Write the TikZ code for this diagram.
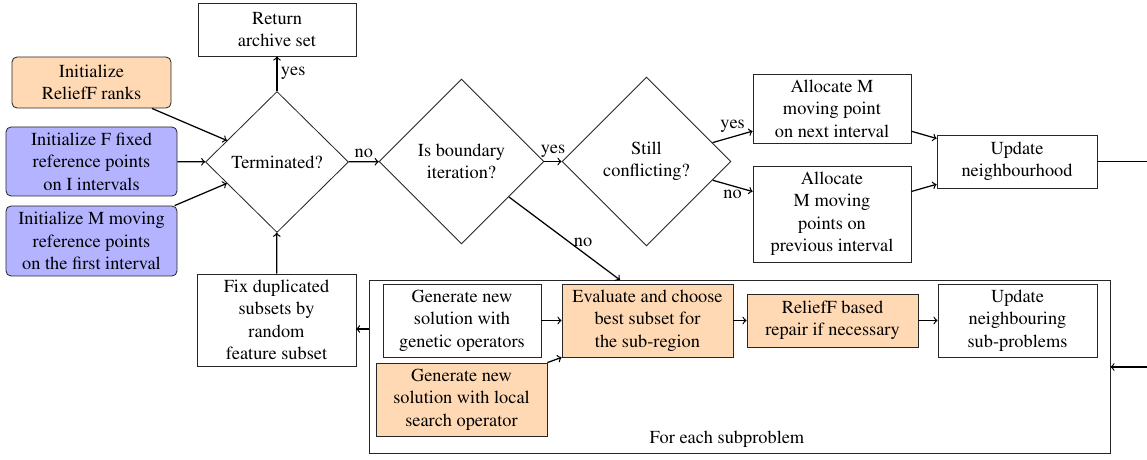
\documentclass[tikz,border=0pt]{standalone}
\usepackage[T1]{fontenc}
\usepackage{times}
\usetikzlibrary{shapes.geometric,calc}
\definecolor{peach}{RGB}{255,217,179}
\definecolor{lav}{RGB}{179,179,255}
\begin{document}
\begin{tikzpicture}[x=0.6pt,y=-0.6pt,
  every node/.style={font=\fontencoding{T1}\fontfamily{ptm}\fontsize{11}{13.5}\selectfont},
  box/.style={draw=black!85, line width=0.5pt, align=center, inner sep=1pt},
  rbox/.style={box, rounded corners=3pt},
  dia/.style={draw=black!85, line width=0.5pt, diamond, aspect=1, align=center, inner sep=0pt},
  conn/.style={->, line width=0.75pt},
  lbl/.style={inner sep=2pt}]
\useasboundingbox (0,0) rectangle (1147,460);

\node[box, minimum width=94.8pt, minimum height=31.8pt] (ret) at (277,29.5) {Return\\archive set};
\node[rbox, fill=peach, minimum width=95.4pt, minimum height=30.6pt] (relief) at (91.5,82.5) {Initialize\\ReliefF ranks};
\node[rbox, fill=lav, minimum width=102.6pt, minimum height=41.4pt] (initF) at (91.5,161.5) {Initialize F fixed\\reference points\\on I intervals};
\node[rbox, fill=lav, minimum width=102.6pt, minimum height=42pt] (initM) at (91.5,241) {Initialize M moving\\reference points\\on the first interval};

\node[dia, minimum width=85.8pt, minimum height=84.6pt] (term) at (277,162) {Terminated?};
\node[dia, minimum width=99pt, minimum height=99pt] (bound) at (461.5,161.5) {Is boundary\\iteration?};
\node[dia, minimum width=101.4pt, minimum height=101.4pt] (still) at (646.5,161.5) {Still\\conflicting?};

\node[box, minimum width=94.8pt, minimum height=41.4pt] (allocN) at (832,108.5) {Allocate M\\moving point\\on next interval};
\node[box, minimum width=94.8pt, minimum height=57.6pt] (allocP) at (832,214) {Allocate\\M moving\\points on\\previous interval};
\node[box, minimum width=96pt, minimum height=31.8pt] (updN) at (1017,161.5) {Update\\neighbourhood};

\node[box, minimum width=95.4pt, minimum height=55.2pt] (fix) at (276.5,320) {Fix duplicated\\subsets by\\random\\feature subset};

\node[box, minimum width=444.6pt, minimum height=103.8pt] (big) at (739.5,366.5) {};
\node[box, minimum width=94.8pt, minimum height=43.8pt] (gen) at (462,320.5) {Generate new\\solution with\\genetic operators};
\node[box, fill=peach, minimum width=102.6pt, minimum height=43.8pt] (local) at (461.5,399.5) {Generate new\\solution with local\\search operator};
\node[box, fill=peach, minimum width=102.6pt, minimum height=43.8pt] (eval) at (647.5,320.5) {Evaluate and choose\\best subset for\\the sub-region};
\node[box, fill=peach, minimum width=102.6pt, minimum height=31.8pt] (repair) at (832.5,320.5) {ReliefF based\\repair if necessary};
\node[box, minimum width=95.4pt, minimum height=43.8pt] (updS) at (1017.5,320.5) {Update\\neighbouring\\sub-problems};
\node[inner sep=0pt] (foreach) at (727,439) {For each subproblem};

\coordinate (bigtop) at (620,280);
\coordinate (rightout) at (1147,161.5);
\coordinate (rightin) at (1147,367);
\coordinate (fixin) at (356,329);

\draw[conn] (relief) -- (term);
\draw[conn] (initF) -- (term);
\draw[conn] (initM) -- (term);
\draw[conn] (term) -- node[lbl, right] {yes} (ret);
\draw[conn] (term) -- node[lbl, above] {no} (bound);
\draw[conn] (bound) -- node[lbl, above] {yes} (still);
\draw[conn] (still) -- node[lbl, above] {yes} (allocN);
\draw[conn] (still) -- node[lbl, below] {no} (allocP);
\draw[conn] (allocN) -- (updN);
\draw[conn] (allocP) -- (updN);
\draw[line width=0.75pt] (updN) -- (rightout);
\draw[conn] (rightin) -- (big.east |- rightin);
\draw[conn] (bound) -- node[lbl, pos=0.55, right] {no} (bigtop);
\draw[conn] (big.west |- fixin) -- (fixin);
\draw[conn] (fix) -- (term);
\draw[conn] (gen) -- (eval);
\draw[conn] (local.north east) -- (eval.south west);
\draw[conn] (eval) -- (repair);
\draw[conn] (repair) -- (updS);
\end{tikzpicture}
\end{document}
